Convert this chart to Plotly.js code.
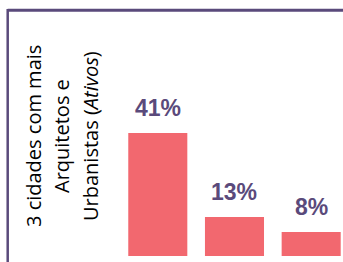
<!DOCTYPE html>
<html>
<head>
<meta charset="utf-8">
<script src="https://cdn.plot.ly/plotly-3.0.1.min.js"></script>
<style>html,body{margin:0;padding:0;background:#fff;}#chart{width:343px;height:262px;}</style>
</head>
<body>
<div id="chart"></div>
<script>
// Data
var categories = ["Cidade 1", "Cidade 2", "Cidade 3"];
var values = [41, 13, 8];
var labels = ["41%", "13%", "8%"];
var titleLines = ["3 cidades com mais", "Arquitetos e", "Urbanistas (<i>Ativos</i>)"];

var W = 343, H = 262, L = 115, R = 0, T = 10, B = 6;
var pw = W - L - R, ph = H - T - B;
function px2x(px) { return (px - L) / pw; }
function py2y(py) { return (H - B - py) / ph; }

var barColor = "#F2686F";
var textColor = "#5A4A7B";
var lineColor = "#5A4A7B";

var annotations = labels.map(function (t, i) {
  return {
    x: categories[i], y: values[i], xref: "x", yref: "y",
    text: t, showarrow: false, yanchor: "bottom", yshift: 10,
    font: {family: "Liberation Sans, Arial, sans-serif", size: 23, color: textColor, weight: "bold"}
  };
});
var titleX = [33, 61, 90];
titleLines.forEach(function (t, i) {
  annotations.push({
    x: px2x(titleX[i]), y: py2y(136), xref: "paper", yref: "paper",
    text: t, showarrow: false, textangle: -90, xanchor: "center", yanchor: "middle",
    font: {family: "Open Sans, sans-serif", size: 20, color: "#000000"}
  });
});

var trace = {
  type: "bar", x: categories, y: values,
  marker: {color: barColor}, hoverinfo: "none"
};

var layout = {
  width: W, height: H,
  margin: {l: L, r: R, t: T, b: B, pad: 0},
  paper_bgcolor: "#ffffff", plot_bgcolor: "#ffffff",
  showlegend: false,
  bargap: 0.23,
  xaxis: {range: [-0.558, 2.415], showticklabels: false, showgrid: false, zeroline: false, showline: false, ticks: ""},
  yaxis: {range: [0, 82], showticklabels: false, showgrid: false, zeroline: false, showline: false, ticks: ""},
  annotations: annotations,
  shapes: [
    {type: "line", xref: "paper", yref: "paper", x0: px2x(7.7), x1: px2x(343), y0: py2y(10.3), y1: py2y(10.3), line: {color: lineColor, width: 3}},
    {type: "line", xref: "paper", yref: "paper", x0: px2x(7.7), x1: px2x(7.7), y0: py2y(9), y1: py2y(263), line: {color: lineColor, width: 2.5}}
  ]
};

Plotly.newPlot("chart", [trace], layout, {displayModeBar: false, staticPlot: true});
</script>
</body>
</html>
